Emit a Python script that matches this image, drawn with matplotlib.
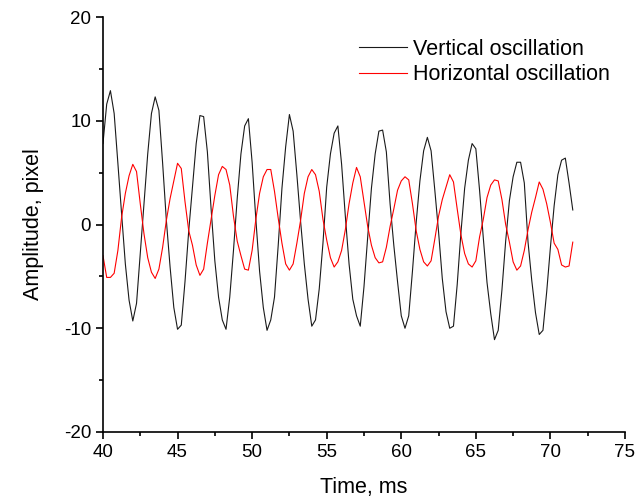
import numpy as np
import matplotlib
matplotlib.use("Agg")
import matplotlib.pyplot as plt
from matplotlib.ticker import MultipleLocator

plt.rcParams['font.family'] = ['Liberation Sans', 'DejaVu Sans']
plt.rcParams['axes.unicode_minus'] = False

# sampling: first point at 40 ms, one point every 0.25 ms
T_START = 40.0
DT = 0.25

vertical = [
    7.8, 11.6, 12.9, 10.7, 5.9, 1.0, -3.8, -7.3, -9.3, -7.6,
    -2.8, 2.0, 6.8, 10.7, 12.3, 11.0, 5.9, 0.4, -4.1, -8.0,
    -10.1, -9.7, -5.5, -0.6, 3.6, 7.8, 10.5, 10.4, 7.0, 1.5,
    -3.5, -7.0, -9.2, -10.1, -7.0, -2.5, 2.5, 6.8, 9.5, 10.2,
    6.0, 0.5, -4.5, -8.0, -10.2, -9.2, -7.0, -2.0, 3.5, 7.5,
    10.6, 9.0, 4.8, 0.3, -3.8, -7.2, -9.8, -9.2, -6.2, -1.8,
    3.6, 6.8, 8.8, 9.5, 5.8, 0.8, -3.8, -7.2, -8.8, -9.8,
    -6.0, -1.2, 3.5, 6.8, 9.0, 9.1, 7.0, 2.0, -2.0, -5.5,
    -8.8, -10.0, -8.8, -4.5, 0.2, 4.2, 7.1, 8.4, 7.1, 3.3,
    -0.7, -5.2, -8.4, -10.0, -9.8, -5.8, -0.8, 3.5, 6.2, 7.8,
    7.3, 3.3, -1.3, -5.6, -8.6, -11.1, -10.2, -6.3, -1.6, 2.3,
    4.6, 6.0, 6.0, 4.0, -1.7, -5.4, -8.5, -10.6, -10.2, -6.5,
    -2.2, 1.8, 4.8, 6.2, 6.4, 4.0, 1.4,
]

horizontal = [
    -3.0, -5.1, -5.1, -4.7, -2.5, 0.7, 3.0, 4.7, 5.8, 5.1,
    2.0, -0.9, -3.2, -4.6, -5.2, -4.3, -2.2, 0.4, 2.5, 4.2,
    5.9, 5.4, 2.2, -0.6, -2.0, -3.9, -4.9, -4.3, -1.8, 0.5,
    2.8, 4.8, 5.6, 5.3, 3.8, 0.8, -1.6, -3.0, -4.3, -4.4,
    -2.5, 0.5, 3.0, 4.6, 5.3, 5.3, 3.2, 0.6, -1.8, -3.8,
    -4.4, -3.8, -1.8, 0.4, 3.0, 4.6, 5.3, 4.8, 3.2, 0.5,
    -1.5, -3.2, -4.1, -3.6, -2.5, -0.5, 2.0, 4.0, 5.5, 4.6,
    2.2, -0.2, -2.0, -3.2, -3.7, -3.6, -2.2, -0.2, 1.5, 3.3,
    4.2, 4.6, 4.3, 2.0, -0.6, -2.4, -3.6, -4.0, -3.5, -1.4,
    0.8, 2.4, 3.6, 4.8, 4.1, 1.5, -1.0, -2.8, -3.8, -4.1,
    -3.5, -1.2, 0.5, 2.6, 3.8, 4.3, 4.2, 2.4, 0.0, -1.7,
    -3.6, -4.4, -4.0, -2.5, -0.5, 1.2, 2.6, 4.1, 3.4, 2.0,
    0.2, -1.8, -2.4, -3.9, -4.1, -4.0, -1.7,
]

time = T_START + DT * np.arange(len(vertical))

fig = plt.figure(figsize=(6.38, 5.0), dpi=100)
ax = fig.add_axes([0.1614, 0.136, 0.8182, 0.830])

ax.plot(time, vertical, color="#1a1a1a", lw=0.8, label="Vertical oscillation")
ax.plot(time, horizontal, color="#ff0000", lw=0.8, label="Horizontal oscillation")

ax.set_xlim(40, 75)
ax.set_ylim(-20, 20)
ax.xaxis.set_major_locator(MultipleLocator(5))
ax.xaxis.set_minor_locator(MultipleLocator(2.5))
ax.yaxis.set_major_locator(MultipleLocator(10))
ax.yaxis.set_minor_locator(MultipleLocator(5))
ax.tick_params(which="both", direction="out", top=False, right=False,
               labelsize=13.5, width=1.2)
ax.tick_params(which="major", length=5)
ax.tick_params(which="minor", length=3)
ax.spines["top"].set_visible(False)
ax.spines["right"].set_visible(False)
for s in ax.spines.values():
    s.set_linewidth(1.2)

ax.set_xlabel("Time, ms", fontsize=15.5, labelpad=12)
ax.set_ylabel("Amplitude, pixel", fontsize=15.5, labelpad=14)

ax.legend(loc="upper right", bbox_to_anchor=(0.988, 0.968), frameon=False,
          fontsize=15.5, handlelength=2.2, handletextpad=0.3,
          labelspacing=0.2, borderaxespad=0.0)

fig.savefig("out.png", dpi=100)
